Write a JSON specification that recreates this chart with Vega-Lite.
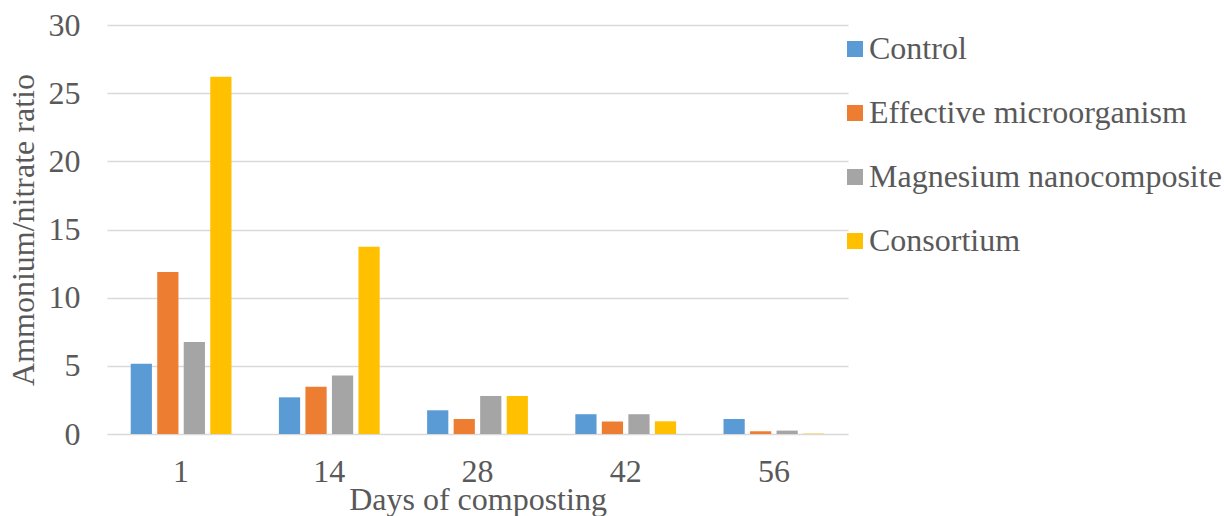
{
  "$schema": "https://vega.github.io/schema/vega-lite/v6.json",
  "autosize": {"type": "none"},
  "width": 741,
  "height": 409,
  "padding": {"left": 107, "top": 25, "right": 376, "bottom": 82},
  "background": "white",
  "data": {
    "values": [
      {"day": "1", "treatment": "Control", "ratio": 5.16},
      {"day": "1", "treatment": "Effective microorganism", "ratio": 11.88},
      {"day": "1", "treatment": "Magnesium nanocomposite", "ratio": 6.75},
      {"day": "1", "treatment": "Consortium", "ratio": 26.2},
      {"day": "14", "treatment": "Control", "ratio": 2.69},
      {"day": "14", "treatment": "Effective microorganism", "ratio": 3.47},
      {"day": "14", "treatment": "Magnesium nanocomposite", "ratio": 4.3},
      {"day": "14", "treatment": "Consortium", "ratio": 13.74},
      {"day": "28", "treatment": "Control", "ratio": 1.74},
      {"day": "28", "treatment": "Effective microorganism", "ratio": 1.1},
      {"day": "28", "treatment": "Magnesium nanocomposite", "ratio": 2.79},
      {"day": "28", "treatment": "Consortium", "ratio": 2.79},
      {"day": "42", "treatment": "Control", "ratio": 1.45},
      {"day": "42", "treatment": "Effective microorganism", "ratio": 0.91},
      {"day": "42", "treatment": "Magnesium nanocomposite", "ratio": 1.45},
      {"day": "42", "treatment": "Consortium", "ratio": 0.93},
      {"day": "56", "treatment": "Control", "ratio": 1.1},
      {"day": "56", "treatment": "Effective microorganism", "ratio": 0.2},
      {"day": "56", "treatment": "Magnesium nanocomposite", "ratio": 0.25},
      {"day": "56", "treatment": "Consortium", "ratio": 0.03}
    ]
  },
  "mark": {"type": "bar"},
  "encoding": {
    "x": {
      "field": "day",
      "type": "nominal",
      "sort": ["1", "14", "28", "42", "56"],
      "scale": {"paddingInner": 0.32, "paddingOuter": 0.16},
      "axis": {
        "title": "Days of composting",
        "labelAngle": 0,
        "ticks": false,
        "domain": false,
        "labelFont": "Liberation Serif",
        "titleFont": "Liberation Serif",
        "labelBaseline": "alphabetic",
        "labelPadding": 47,
        "titleBaseline": "alphabetic",
        "titleY": 75,
        "titleX": 370.5,
        "titleAlign": "center"
      }
    },
    "xOffset": {
      "field": "treatment",
      "type": "nominal",
      "sort": ["Control", "Effective microorganism", "Magnesium nanocomposite", "Consortium"],
      "scale": {"paddingInner": 0.2, "paddingOuter": 0}
    },
    "y": {
      "field": "ratio",
      "type": "quantitative",
      "scale": {"domain": [0, 30], "nice": false},
      "axis": {
        "title": "Ammonium/nitrate ratio",
        "values": [0, 5, 10, 15, 20, 25, 30],
        "ticks": false,
        "domain": false,
        "labelFont": "Liberation Serif",
        "titleFont": "Liberation Serif",
        "labelPadding": 27,
        "titleAngle": -90,
        "titleBaseline": "alphabetic",
        "titleAlign": "center",
        "titleX": -74,
        "titleY": 204.5
      }
    },
    "color": {
      "field": "treatment",
      "type": "nominal",
      "sort": ["Control", "Effective microorganism", "Magnesium nanocomposite", "Consortium"],
      "scale": {
        "domain": ["Control", "Effective microorganism", "Magnesium nanocomposite", "Consortium"],
        "range": ["#5B9BD5", "#ED7D31", "#A5A5A5", "#FFC000"]
      },
      "legend": {
        "title": null,
        "orient": "none",
        "legendX": 732,
        "legendY": 8,
        "padding": 0,
        "symbolType": "square",
        "symbolSize": 256,
        "symbolStrokeWidth": 0,
        "symbolOffset": 0,
        "labelFont": "Liberation Serif",
        "labelFontSize": 32,
        "labelColor": "#595959",
        "labelOffset": -2,
        "rowPadding": 32,
        "labelLimit": 400
      }
    }
  },
  "config": {
    "view": {"stroke": null},
    "font": "Liberation Serif",
    "axis": {
      "labelFontSize": 32,
      "titleFontSize": 32,
      "labelColor": "#595959",
      "titleColor": "#595959",
      "titleFontWeight": "normal",
      "gridColor": "#D9D9D9",
      "gridWidth": 1.5
    },
    "axisX": {"grid": false},
    "axisY": {"grid": true}
  }
}
